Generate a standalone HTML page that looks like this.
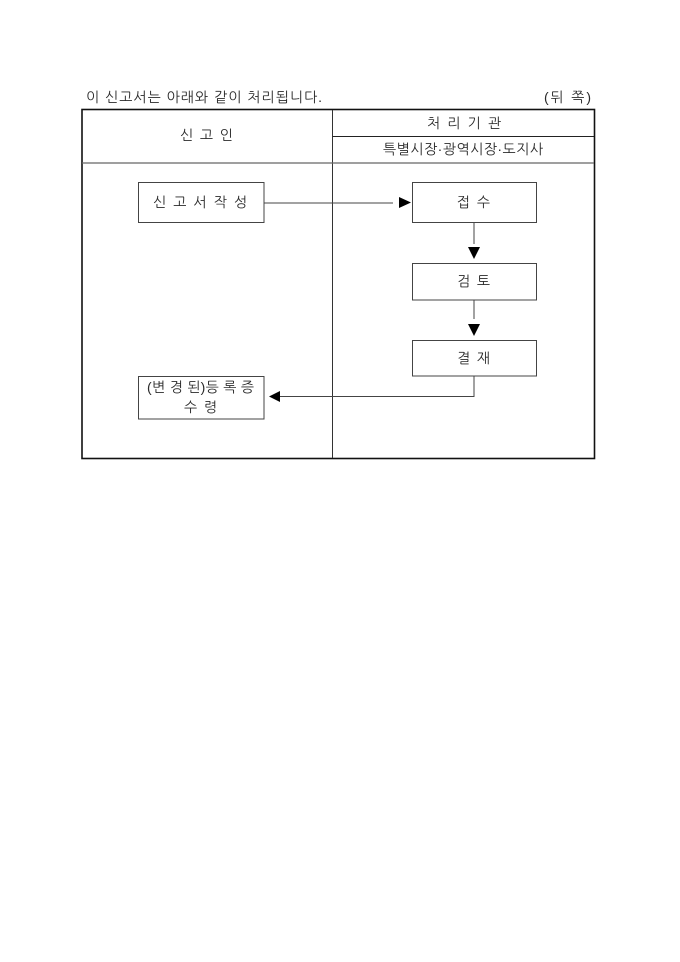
<!DOCTYPE html>
<html lang="ko">
<head>
<meta charset="utf-8">
<style>
html,body{margin:0;padding:0;background:#fff;width:680px;height:962px;overflow:hidden}
svg{display:block}
text{font-family:"Liberation Sans","NanumGothic","Noto Sans CJK KR",sans-serif;font-size:14px;fill:#2a2a2a}
</style>
</head>
<body>
<svg width="680" height="962" viewBox="0 0 680 962" xmlns="http://www.w3.org/2000/svg">
<rect x="82" y="109.5" width="512.5" height="349" fill="none" stroke="#111" stroke-width="1.6"/>
<path d="M332.5 110V458" stroke="#333" stroke-width="1" fill="none"/>
<path d="M332.5 136.5H594" stroke="#222" stroke-width="1" fill="none"/>
<path d="M82 163H594" stroke="#666" stroke-width="1.2" fill="none"/>
<g fill="#fff" stroke="#444" stroke-width="1">
<rect x="138.5" y="182.5" width="125.5" height="40"/>
<rect x="412.5" y="182.5" width="124" height="40"/>
<rect x="412.5" y="263.5" width="124" height="36.5"/>
<rect x="412.5" y="340.5" width="124" height="35.5"/>
<rect x="138.5" y="376.5" width="125.5" height="42.5"/>
</g>
<g fill="none" stroke="#444" stroke-width="1">
<path d="M264 203H393"/>
<path d="M474 223V244"/>
<path d="M474 300V319"/>
<path d="M474 376V396.5H279"/>
</g>
<g fill="#000">
<polygon points="399,197 411,202.5 399,208"/>
<polygon points="468,247 480,247 474,259"/>
<polygon points="468,324 480,324 474,336"/>
<polygon points="269,396.5 280,391 280,402"/>
</g>
<text x="86" y="102" textLength="236" lengthAdjust="spacing" xml:space="preserve">이 신고서는 아래와 같이 처리됩니다.</text>
<text x="544" y="102" textLength="47" lengthAdjust="spacing" xml:space="preserve">(뒤 쪽)</text>
<text x="180" y="140" textLength="53" lengthAdjust="spacing" xml:space="preserve">신 고 인</text>
<text x="427" y="128" textLength="74" lengthAdjust="spacing" xml:space="preserve">처 리 기 관</text>
<text x="383" y="154" textLength="160" lengthAdjust="spacing">특별시장·광역시장·도지사</text>
<text x="153" y="207" textLength="94" lengthAdjust="spacing" xml:space="preserve">신 고 서 작 성</text>
<text x="457" y="207" textLength="33" lengthAdjust="spacing" xml:space="preserve">접 수</text>
<text x="457" y="286" textLength="33" lengthAdjust="spacing" xml:space="preserve">검 토</text>
<text x="457" y="363" textLength="33" lengthAdjust="spacing" xml:space="preserve">결 재</text>
<text x="147" y="392" textLength="107" lengthAdjust="spacing" xml:space="preserve">(변 경 된)등 록 증</text>
<text x="184" y="412" textLength="33" lengthAdjust="spacing" xml:space="preserve">수 령</text>
</svg>
</body>
</html>
